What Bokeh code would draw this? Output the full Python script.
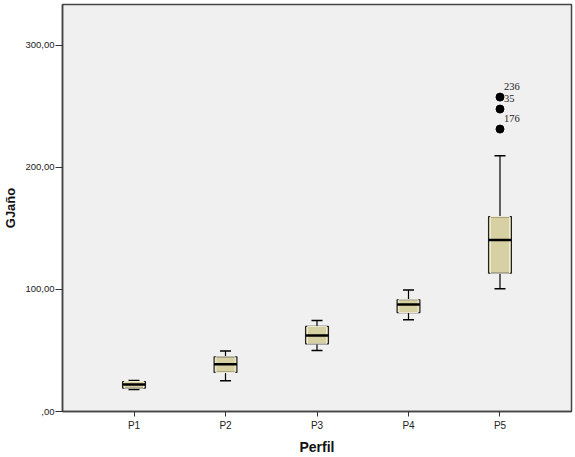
from bokeh.models import ColumnDataSource, FactorRange, Range1d, FixedTicker, Whisker, TeeHead
from bokeh.plotting import figure
from bokeh.transform import dodge
from bokeh.embed import file_html
from bokeh.resources import INLINE

profiles = ["P1", "P2", "P3", "P4", "P5"]
whisker_low = [18.0, 25.2, 50.0, 75.2, 100.6]
q1 = [19.2, 32.0, 55.5, 81.1, 113.4]
median = [22.1, 38.8, 62.3, 87.7, 140.5]
q3 = [24.6, 44.8, 69.7, 91.6, 159.8]
whisker_high = [25.4, 49.5, 74.6, 99.5, 209.6]

outlier_profile = ["P5", "P5", "P5"]
outlier_values = [257.7, 247.9, 231.5]
outlier_cases = ["236", "35", "176"]

y_ticks = [0, 100, 200, 300]
y_tick_labels = [",00", "100,00", "200,00", "300,00"]

FONT = "Liberation Sans"
BOX_FILL = "#d6d0a2"

src = ColumnDataSource(dict(profile=profiles, low=whisker_low, q1=q1, med=median,
                            q3=q3, high=whisker_high))
out_src = ColumnDataSource(dict(profile=outlier_profile, val=outlier_values,
                                case=outlier_cases))

p = figure(frame_width=509, frame_height=407, output_backend="svg", toolbar_location=None,
           x_range=FactorRange(factors=profiles, range_padding=0.1126),
           y_range=Range1d(0, 333.6),
           min_border_left=62, min_border_right=4, min_border_top=4, min_border_bottom=46)

p.background_fill_color = "#f0f0f0"
p.border_fill_color = "white"
p.outline_line_color = "#444444"
p.outline_line_width = 1.5
p.grid.visible = False

# whiskers with caps
upper = Whisker(source=src, base="profile", lower="q3", upper="high",
                line_color="black", line_width=1.2,
                upper_head=TeeHead(size=11, line_color="black", line_width=1.5),
                lower_head=None)
lower = Whisker(source=src, base="profile", lower="low", upper="q1",
                line_color="black", line_width=1.2,
                lower_head=TeeHead(size=11, line_color="black", line_width=1.5),
                upper_head=None)
p.add_layout(upper)
p.add_layout(lower)

# boxes
p.vbar(x="profile", width=0.25, bottom="q1", top="q3", source=src,
       fill_color=BOX_FILL, line_color="#222222", line_width=1.2)
p.vbar(x="profile", width=0.21, bottom="q1", top="q3", source=src,
       fill_color=None, line_color="#f3f0da", line_width=1)

# median
p.segment(x0=dodge("profile", -0.125, range=p.x_range), y0="med",
          x1=dodge("profile", 0.125, range=p.x_range), y1="med",
          source=src, line_color="black", line_width=2.5)

# outliers
p.scatter(x="profile", y="val", source=out_src, size=8, color="black")
p.text(x="profile", y="val", text="case", source=out_src, x_offset=4, y_offset=-11,
       text_baseline="middle", text_align="left", text_font=FONT,
       text_font_size="10.5px", text_color="#222222")

# axes
p.yaxis.ticker = FixedTicker(ticks=y_ticks)
p.yaxis.major_label_overrides = {t: lab for t, lab in zip(y_ticks, y_tick_labels)}
p.yaxis.minor_tick_line_color = None
p.yaxis.axis_label = "GJaño"
p.xaxis.axis_label = "Perfil"

for ax in (p.xaxis, p.yaxis):
    ax.axis_line_color = "#444444"
    ax.axis_line_width = 1.5
    ax.major_tick_line_color = "#333333"
    ax.major_tick_in = 0
    ax.major_label_text_font = FONT
    ax.major_label_text_color = "#222222"
    ax.axis_label_text_font = FONT
    ax.axis_label_text_font_style = "bold"
    ax.axis_label_text_color = "#111111"

p.yaxis.major_tick_out = 7
p.yaxis.major_label_text_font_size = "9.5px"
p.yaxis.major_label_standoff = 1
p.yaxis.axis_label_text_font_size = "13px"
p.yaxis.axis_label_standoff = 4
p.xaxis.major_tick_out = 5
p.xaxis.major_label_text_font_size = "10px"
p.xaxis.major_label_standoff = 3
p.xaxis.axis_label_text_font_size = "14px"
p.xaxis.axis_label_standoff = 5

open("out.html", "w").write(file_html(p, INLINE))
